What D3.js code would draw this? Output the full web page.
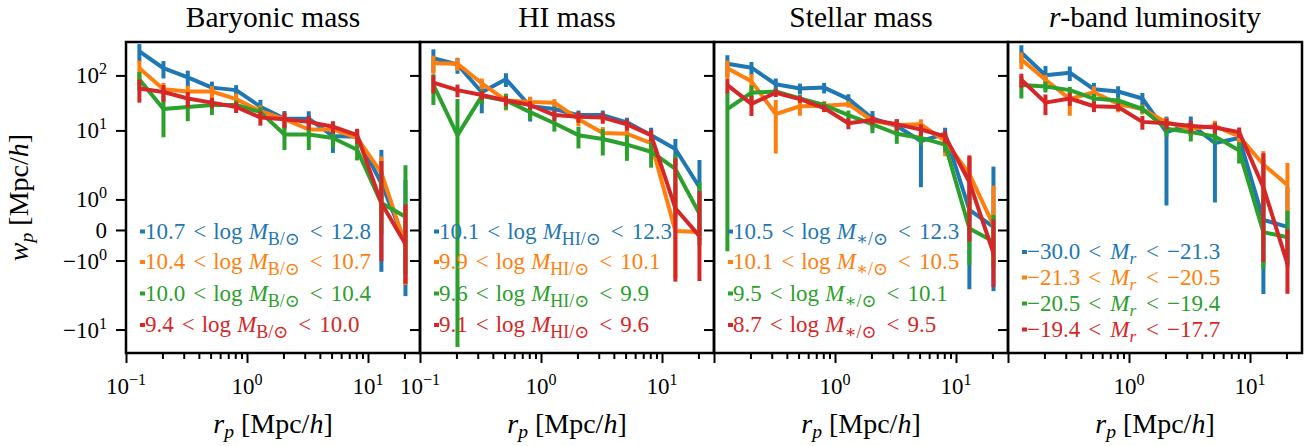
<!DOCTYPE html>
<html>
<head>
<meta charset="utf-8">
<script src="https://cdn.jsdelivr.net/npm/d3@7"></script>
<style>
  body { margin: 0; background: #fff; }
  text { font-family: "Liberation Serif", "DejaVu Serif", serif; white-space: pre; }
</style>
</head>
<body>
<div id="chart"></div>
<script>
// projected separation bins (Mpc/h)
const rp = [0.129, 0.204, 0.324, 0.513, 0.813, 1.29, 2.04, 3.24, 5.13, 8.13, 12.9, 20.4];

const titles = ["Baryonic mass", "HI mass", "Stellar mass", "r-band luminosity"];
const colors = ["#1f77b4", "#ff7f0e", "#2ca02c", "#d62728"];

// legend bins per panel
const baryonBins = [["10.7", "12.8"], ["10.4", "10.7"], ["10.0", "10.4"], ["9.4", "10.0"]];
const hiBins = [["10.1", "12.3"], ["9.9", "10.1"], ["9.6", "9.9"], ["9.1", "9.6"]];
const stellarBins = [["10.5", "12.3"], ["10.1", "10.5"], ["9.5", "10.1"], ["8.7", "9.5"]];
const rbandBins = [["\u221230.0", "\u221221.3"], ["\u221221.3", "\u221220.5"], ["\u221220.5", "\u221219.4"], ["\u221219.4", "\u221217.7"]];

// w_p per bin (rows: bins, cols: rp) and symmetric errors
const baryonWp = [
  [273, 135, 92, 60, 54, 27, 16.5, 16.3, 7.9, 7.7, 1.53, -0.42],
  [135, 56, 51, 51, 37, 22.5, 16, 10.4, 10.4, 7.3, 1.87, -0.5],
  [84, 24.5, 26.7, 29, 29, 21.5, 8.4, 8.4, 7.3, 4.45, 0.88, 0.43],
  [58, 50, 38, 32, 26.7, 17.2, 16, 14.3, 11.7, 8.2, 0.88, -0.46]
];
const baryonErr = [
  [98, 47, 30, 17, 12.5, 9, 6, 6, 4, 2.6, 2.9, 2.05],
  [51, 17, 14, 13, 10, 6, 4, 3, 3, 2.5, 1.5, 1.3],
  [31, 17, 12, 10, 6, 5, 4, 4, 2.5, 1.6, 1.04, 1.9],
  [26, 17, 12, 7, 6, 5, 5, 4, 3, 2.5, 1.9, 1.3]
];
const hiWp = [
  [205, 158, 49.5, 85.5, 27.5, 24.5, 19, 19, 14, 8.2, 4.6, 1.4],
  [167, 163, 72, 35, 33, 32, 16, 9, 8.7, 5.9, -0.03, -0.07],
  [67, 8.2, 42, 35, 21.5, 13.5, 8.2, 7, 5.5, 4.1, 2.0, 0.53],
  [74, 54, 44, 35, 29, 19, 17.8, 17.2, 12.9, 8.2, 0.71, -0.2]
];
const hiErr = [
  [93, 51, 29, 24, 13, 5, 4, 4, 3, 3, 2.4, 1.5],
  [60, 42, 16, 12, 8, 5, 4, 2.5, 2.5, 2, 1.55, 0.26],
  [38, 29, 12, 11, 6, 4, 3.5, 3.5, 2.7, 2, 1.6, 1.04],
  [27, 14, 8, 7, 5, 4, 4, 4, 3, 2, 2.4, 1.47]
];
const stellarWp = [
  [163, 138, 69, 58, 60, 37.5, 16.5, 12, 6.4, 8.7, 0.66, 0.1],
  [135, 78, 19.8, 27.5, 28, 30, 15, 12.5, 12.9, 6.4, 1.83, 0.15],
  [24.5, 48.5, 51, 38, 29, 19, 12.9, 8.7, 7.3, 5.5, 0.05, -0.38],
  [66.5, 30.3, 48.5, 37, 25.5, 13.5, 15.5, 12.9, 10.4, 7.8, 1.57, -0.76]
];
const stellarErr = [
  [70, 37, 19, 13, 13, 8, 6, 4, 5, 2.5, 2.6, 2.1],
  [51, 28, 16, 9, 6, 4, 3, 3, 3, 3, 1.5, 1.3],
  [25.2, 17, 7, 6, 4, 4, 4, 3, 2, 1.5, 1.2, 0.87],
  [19, 12, 8, 5, 4, 3, 3, 3, 2.5, 2, 1.95, 1.1]
];
const rbandWp = [
  [260, 101, 112, 56, 51, 38, 9.3, 12.9, 5.9, 7.3, 0.33, 0.1],
  [195, 83.5, 37.5, 49.5, 30.3, 24.5, 14, 10.7, 12, 7.8, 2.4, 1.47],
  [67, 63, 54, 38, 35, 24.5, 10.7, 9.3, 7.8, 4.3, -0.07, -0.24],
  [83.5, 32, 38, 27.5, 26.7, 14.3, 13.5, 12, 11.3, 9.3, 1.4, -1.11]
];
const rbandErr = [
  [93, 47, 33, 17, 12.5, 10, 8.5, 5, 5, 3, 2.6, 1.3],
  [65, 19, 19, 14, 9, 5, 3, 3, 3, 2, 1.8, 1.1],
  [29, 14, 8, 8, 5, 4, 3, 3, 2, 1.8, 1.2, 0.87],
  [24, 13, 10, 6, 4, 4, 3, 3, 2.5, 2, 2.45, 1.13]
];

const yTickValues = [100, 10, 1, 0, -1, -10];
const yTickLabels = [["10", "2"], ["10", "1"], ["10", "0"], ["0", ""], ["\u221210", "0"], ["\u221210", "1"]];

const panels = [
  { wp: baryonWp, err: baryonErr, bins: baryonBins, sub: "B/\u2299", xLabels: [0.1, 1, 10] },
  { wp: hiWp, err: hiErr, bins: hiBins, sub: "HI/\u2299", xLabels: [0.1, 1, 10] },
  { wp: stellarWp, err: stellarErr, bins: stellarBins, sub: "\u2217/\u2299", xLabels: [1, 10] },
  { wp: rbandWp, err: rbandErr, bins: rbandBins, sub: null, xLabels: [1, 10] }
];

// layout
const W = 1315, H = 446;
const panelLeft = [126, 420, 714, 1008];
const panelW = 294;
const plotTop = 42, plotBottom = 353;

// symlog transform: linear inside +-linthresh, log outside (linscale 1)
const LINTHRESH = 2, LINSPAN = 1 / (1 - 1 / 10);
function symT(v) {
  const a = Math.abs(v);
  const t = a <= LINTHRESH ? a / LINTHRESH * LINSPAN : LINSPAN + Math.log10(a / LINTHRESH);
  return Math.sign(v) * t;
}
const yT = d3.scaleLinear().domain([symT(-26.7), symT(405)]).range([plotBottom, plotTop]);
const y = v => yT(symT(v));

const svg = d3.select("#chart").append("svg")
  .attr("width", W).attr("height", H);

// y label
const yl = svg.append("text")
  .attr("transform", `translate(28, ${(plotTop + plotBottom) / 2}) rotate(-90)`)
  .attr("text-anchor", "middle")
  .attr("font-size", 28);
yl.append("tspan").attr("font-style", "italic").text("w");
yl.append("tspan").attr("font-style", "italic").attr("font-size", "0.7em").attr("dy", 5).text("p");
yl.append("tspan").attr("dy", -5).text(" [Mpc/");
yl.append("tspan").attr("font-style", "italic").text("h");
yl.append("tspan").text("]");

panels.forEach((p, pi) => {
  const left = panelLeft[pi];
  const x = d3.scaleLog().domain([0.1, 26.9]).range([left, left + panelW]);
  const g = svg.append("g");

  g.append("clipPath").attr("id", "clip" + pi)
    .append("rect").attr("x", left).attr("y", plotTop).attr("width", panelW).attr("height", plotBottom - plotTop);
  const plot = g.append("g").attr("clip-path", `url(#clip${pi})`);

  const line = d3.line().x(d => x(d.r)).y(d => y(d.w));

  p.wp.forEach((vals, si) => {
    const pts = rp.map((r, i) => ({ r: r, w: vals[i], e: p.err[si][i] }));
    plot.selectAll(null).data(pts).enter().append("line")
      .attr("x1", d => x(d.r)).attr("x2", d => x(d.r))
      .attr("y1", d => y(d.w - d.e)).attr("y2", d => y(d.w + d.e))
      .attr("stroke", colors[si]).attr("stroke-width", 4);
    plot.append("path").datum(pts)
      .attr("d", line)
      .attr("fill", "none")
      .attr("stroke", colors[si])
      .attr("stroke-width", 4)
      .attr("stroke-linejoin", "round");
  });

  // legend
  const rowY = p.sub ? [231.5, 262, 293.5, 325] : [252, 277.5, 303.5, 329.5];
  p.bins.forEach((b, si) => {
    g.append("rect")
      .attr("x", left + 14).attr("y", rowY[si] - 2)
      .attr("width", 5).attr("height", 4)
      .attr("fill", colors[si]);
    const t = g.append("text")
      .attr("x", left + 19).attr("y", rowY[si] + 7)
      .attr("font-size", 23)
      .attr("fill", colors[si]);
    t.append("tspan").text(b[0]);
    t.append("tspan").attr("dx", 8).text("<");
    if (p.sub) {
      t.append("tspan").attr("dx", 7).text("log");
      t.append("tspan").attr("dx", 6).attr("font-style", "italic").text("M");
      t.append("tspan").attr("font-size", "0.78em").attr("dy", 6).text(p.sub);
    } else {
      t.append("tspan").attr("dx", 9).attr("font-style", "italic").text("M");
      t.append("tspan").attr("font-style", "italic").attr("font-size", "0.75em").attr("dy", 5).text("r");
    }
    t.append("tspan").attr("dx", 10).attr("dy", p.sub ? -6 : -5).text("<");
    t.append("tspan").attr("dx", 8).text(b[1]);
  });

  // x axis ticks
  const allTicks = x.ticks();
  const isMajor = v => Math.abs(Math.log10(v) - Math.round(Math.log10(v))) < 1e-6;
  const xMinor = g.append("g").attr("transform", `translate(0,${plotBottom})`)
    .call(d3.axisBottom(x).tickValues(allTicks.filter(v => !isMajor(v))).tickSize(6).tickFormat(""));
  const xMajor = g.append("g").attr("transform", `translate(0,${plotBottom})`)
    .call(d3.axisBottom(x).tickValues(allTicks.filter(isMajor)).tickSize(10).tickFormat(""));
  [xMinor, xMajor].forEach(a => {
    a.select(".domain").remove();
    a.selectAll("line").attr("stroke", "#000").attr("stroke-width", 2);
  });

  p.xLabels.forEach(v => {
    const t = g.append("text")
      .attr("x", x(v)).attr("y", 394)
      .attr("text-anchor", "middle")
      .attr("font-size", 23);
    t.append("tspan").text("10");
    t.append("tspan").attr("font-size", "0.7em").attr("dy", -9).text(String(Math.round(Math.log10(v))).replace("-", "\u2212"));
  });

  // x label
  const xl = g.append("text")
    .attr("x", left + panelW / 2).attr("y", 433)
    .attr("text-anchor", "middle")
    .attr("font-size", 28);
  xl.append("tspan").attr("font-style", "italic").text("r");
  xl.append("tspan").attr("font-style", "italic").attr("font-size", "0.7em").attr("dy", 5).text("p");
  xl.append("tspan").attr("dy", -5).text(" [Mpc/");
  xl.append("tspan").attr("font-style", "italic").text("h");
  xl.append("tspan").text("]");

  // y axis ticks
  const ya = g.append("g").attr("transform", `translate(${left},0)`)
    .call(d3.axisLeft(yT).tickValues(yTickValues.map(symT)).tickSize(10).tickFormat(""));
  ya.select(".domain").remove();
  ya.selectAll("line").attr("stroke", "#000").attr("stroke-width", 2);

  if (pi === 0) {
    yTickValues.forEach((v, i) => {
      const t = g.append("text")
        .attr("x", left - 19).attr("y", y(v) + 8)
        .attr("text-anchor", "end")
        .attr("font-size", 23);
      t.append("tspan").text(yTickLabels[i][0]);
      if (yTickLabels[i][1]) t.append("tspan").attr("font-size", "0.7em").attr("dy", -9).text(yTickLabels[i][1]);
    });
  }

  // title
  const tt = g.append("text")
    .attr("x", left + panelW / 2).attr("y", 27)
    .attr("text-anchor", "middle")
    .attr("font-size", 29.5);
  if (pi === 3) {
    tt.append("tspan").attr("font-style", "italic").text("r");
    tt.append("tspan").text("-band luminosity");
  } else {
    tt.text(titles[pi]);
  }

  // frame
  g.append("rect")
    .attr("x", left).attr("y", plotTop)
    .attr("width", panelW).attr("height", plotBottom - plotTop)
    .attr("fill", "none").attr("stroke", "#000").attr("stroke-width", 2.5);
});
</script>
</body>
</html>
